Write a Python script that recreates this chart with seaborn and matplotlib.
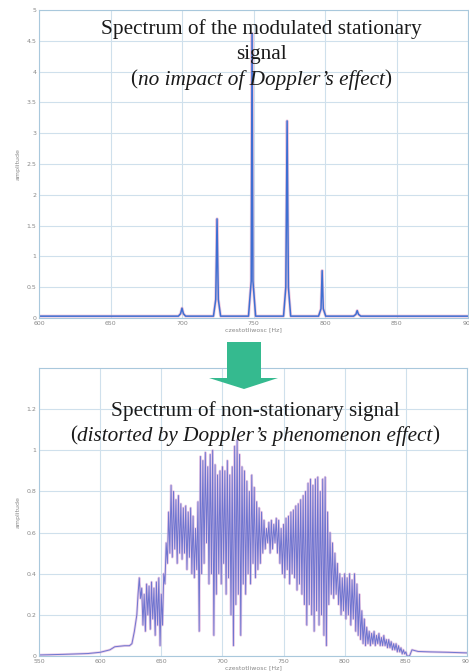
import numpy as np
import pandas as pd
import matplotlib
matplotlib.use("Agg")
import matplotlib.pyplot as plt
from matplotlib.patches import Polygon
import seaborn as sns

# ---------------- data: top panel (stationary spectrum) ----------------
top_freq = [600, 697.5, 699.0, 700.0, 701.0, 702.5,
            722.0, 723.6, 724.5, 725.4, 727.0,
            746.5, 748.4, 749.0, 749.6, 751.5,
            771.0, 772.6, 773.5, 774.4, 776.0,
            795.5, 797.2, 798.0, 798.8, 800.5,
            820.0, 821.6, 822.5, 823.4, 825.0, 900]
top_amp = [0.03, 0.03, 0.07, 0.16, 0.07, 0.03,
           0.03, 0.30, 1.61, 0.30, 0.03,
           0.03, 0.60, 4.62, 0.60, 0.03,
           0.03, 0.50, 3.20, 0.50, 0.03,
           0.03, 0.15, 0.77, 0.15, 0.03,
           0.03, 0.06, 0.12, 0.06, 0.03, 0.03]

# ---------------- data: bottom panel (non-stationary spectrum) ----------------
base_left_freq = [550, 570, 590, 600, 608, 612, 620, 624, 626, 628]
base_left_amp = [0.005, 0.008, 0.012, 0.018, 0.03, 0.045, 0.05, 0.05, 0.06, 0.12]

peak_freq = list(range(630, 851, 2))
peak_amp = [0.20, 0.38, 0.33, 0.30, 0.35, 0.34, 0.36, 0.33, 0.36, 0.38,
            0.30, 0.40, 0.55, 0.70, 0.83, 0.80, 0.76, 0.78, 0.74, 0.72,
            0.73, 0.70, 0.72, 0.68, 0.62, 0.75, 0.97, 0.95, 0.99, 0.92,
            0.98, 1.00, 0.93, 0.88, 0.90, 0.92, 0.90, 0.95, 0.88, 0.92,
            1.02, 1.05, 0.98, 0.92, 0.90, 0.85, 0.80, 0.88, 0.82, 0.75,
            0.72, 0.70, 0.66, 0.62, 0.65, 0.66, 0.64, 0.67, 0.66, 0.62,
            0.64, 0.67, 0.68, 0.70, 0.71, 0.73, 0.74, 0.76, 0.78, 0.80,
            0.84, 0.86, 0.83, 0.86, 0.87, 0.80, 0.86, 0.87, 0.70, 0.60,
            0.55, 0.50, 0.45, 0.40, 0.38, 0.40, 0.38, 0.40, 0.37, 0.40,
            0.35, 0.30, 0.22, 0.18, 0.14, 0.12, 0.11, 0.12, 0.10, 0.11,
            0.09, 0.10, 0.08, 0.08, 0.07, 0.06, 0.06, 0.05, 0.04, 0.03,
            0.02]

trough_freq = list(range(631, 852, 2))
trough_amp = [0.30, 0.28, 0.15, 0.12, 0.20, 0.13, 0.18, 0.10, 0.15, 0.05,
              0.15, 0.35, 0.45, 0.50, 0.48, 0.52, 0.45, 0.50, 0.47, 0.50,
              0.42, 0.48, 0.40, 0.38, 0.42, 0.12, 0.40, 0.45, 0.55, 0.35,
              0.40, 0.10, 0.30, 0.40, 0.35, 0.45, 0.30, 0.38, 0.20, 0.05,
              0.25, 0.30, 0.10, 0.35, 0.30, 0.40, 0.35, 0.45, 0.38, 0.42,
              0.45, 0.50, 0.52, 0.55, 0.50, 0.52, 0.55, 0.50, 0.45, 0.40,
              0.38, 0.42, 0.35, 0.40, 0.38, 0.32, 0.35, 0.30, 0.25, 0.15,
              0.25, 0.20, 0.12, 0.22, 0.15, 0.20, 0.10, 0.05, 0.25, 0.30,
              0.28, 0.30, 0.25, 0.20, 0.22, 0.18, 0.20, 0.15, 0.18, 0.12,
              0.10, 0.08, 0.06, 0.05, 0.06, 0.05, 0.06, 0.05, 0.06, 0.05,
              0.05, 0.05, 0.04, 0.04, 0.03, 0.03, 0.02, 0.02, 0.01, 0.01,
              0.00]

base_right_freq = [853, 855, 860, 870, 885, 900]
base_right_amp = [0.0, 0.03, 0.022, 0.02, 0.018, 0.015]

top_xticks = [600, 650, 700, 750, 800, 850, 900]
top_yticks = [0, 0.5, 1, 1.5, 2, 2.5, 3, 3.5, 4, 4.5, 5]
top_yticklabels = ["0", "0.5", "1", "1.5", "2", "2.5", "3", "3.5", "4", "4.5", "5"]
bot_xticks = [550, 600, 650, 700, 750, 800, 850, 900]
bot_yticks = [0, 0.2, 0.4, 0.6, 0.8, 1, 1.2]
bot_yticklabels = ["0", "0.2", "0.4", "0.6", "0.8", "1", "1.2"]

title_top = ["Spectrum of the modulated stationary", "signal"]
title_top_it = "no impact of Doppler\u2019s effect"
title_bot = "Spectrum of non-stationary signal"
title_bot_it = "distorted by Doppler\u2019s phenomenon effect"
xlabel = "czestotliwosc [Hz]"
ylabel = "amplitude"

# ---------------- build frames ----------------
df_top = pd.DataFrame({"f": top_freq, "a": top_amp})
osc = pd.DataFrame({"f": peak_freq + trough_freq, "a": peak_amp + trough_amp}).sort_values("f")
df_bot = pd.concat([pd.DataFrame({"f": base_left_freq, "a": base_left_amp}),
                    osc,
                    pd.DataFrame({"f": base_right_freq, "a": base_right_amp})],
                   ignore_index=True)

# ---------------- style ----------------
sns.set_theme(style="whitegrid")
plt.rcParams["font.family"] = ["DejaVu Sans"]

W, H = 469, 671
fig = plt.figure(figsize=(W / 100, H / 100), dpi=100)
fig.patch.set_facecolor("white")

def fx(x):
    return x / W

def fy(y):
    return 1 - y / H

ax1 = fig.add_axes([fx(39), fy(318), (468 - 39) / W, (318 - 10) / H])
ax2 = fig.add_axes([fx(39), fy(656), (467 - 39) / W, (656 - 368) / H])

grid_c = "#cfe0ec"
spine_c = "#a9c8dc"
tick_c = "#888888"

for ax in (ax1, ax2):
    ax.set_facecolor("white")
    ax.grid(True, color=grid_c, linewidth=0.8)
    for s in ax.spines.values():
        s.set_color(spine_c)
        s.set_linewidth(0.8)
    ax.tick_params(axis="both", labelsize=4.5, colors=tick_c, length=0, pad=2)

# top line: pink halo + blue line
sns.lineplot(data=df_top, x="f", y="a", ax=ax1, color="#e6a6c8", linewidth=2.2,
             alpha=0.6, estimator=None, sort=False)
sns.lineplot(data=df_top, x="f", y="a", ax=ax1, color="#3e6fd2", linewidth=1.1,
             estimator=None, sort=False)
ax1.set_xlim(600, 900)
ax1.set_ylim(0, 5)
ax1.set_xticks(top_xticks)
ax1.set_yticks(top_yticks)
ax1.set_xticklabels([str(t) for t in top_xticks])
ax1.set_yticklabels(top_yticklabels)
ax1.set_xlabel(xlabel, fontsize=4.5, color=tick_c, labelpad=1)
ax1.set_ylabel(ylabel, fontsize=4.5, color=tick_c, labelpad=4)

# bottom line
sns.lineplot(data=df_bot, x="f", y="a", ax=ax2, color="#d8a4d4", linewidth=1.8,
             alpha=0.55, estimator=None, sort=False)
sns.lineplot(data=df_bot, x="f", y="a", ax=ax2, color="#5a66cc", linewidth=0.7,
             alpha=0.85, estimator=None, sort=False)
ax2.set_xlim(550, 900)
ax2.set_ylim(0, 1.4)
ax2.set_xticks(bot_xticks)
ax2.set_yticks(bot_yticks)
ax2.set_xticklabels([str(t) for t in bot_xticks])
ax2.set_yticklabels(bot_yticklabels)
ax2.set_xlabel(xlabel, fontsize=4.5, color=tick_c, labelpad=1)
ax2.set_ylabel(ylabel, fontsize=4.5, color=tick_c, labelpad=4)

# ---------------- annotation texts ----------------
serif = ["Liberation Serif", "DejaVu Serif"]
tc = "#1a1a1a"
FS = 15.3
renderer = fig.canvas.get_renderer()

def paren_line(xc, yc, inner):
    """Upright parentheses around italic text, centred at (xc, yc) in px."""
    parts = [("(", "normal"), (inner, "italic"), (")", "normal")]
    texts = []
    for s, st in parts:
        t = fig.text(0, fy(yc), s, ha="left", va="center", fontsize=FS,
                     family=serif, color=tc, style=st)
        texts.append(t)
    widths = [t.get_window_extent(renderer).width for t in texts]
    x = xc - sum(widths) / 2
    for t, w in zip(texts, widths):
        t.set_x(fx(x))
        x += w

fig.text(fx(261), fy(29), title_top[0], ha="center", va="center",
         fontsize=FS, family=serif, color=tc)
fig.text(fx(261), fy(54), title_top[1], ha="center", va="center",
         fontsize=FS, family=serif, color=tc)
paren_line(261, 80, title_top_it)
fig.text(fx(255), fy(411), title_bot, ha="center", va="center",
         fontsize=FS, family=serif, color=tc)
paren_line(255, 436, title_bot_it)

# ---------------- green arrow ----------------
arrow_pts = [(227, 342), (261, 342), (261, 378), (278, 378), (244, 389),
             (209, 378), (227, 378)]
fig.add_artist(Polygon([(fx(x), fy(y)) for x, y in arrow_pts], closed=True,
                       transform=fig.transFigure, facecolor="#35ba8f",
                       edgecolor="none"))

fig.savefig("out.png", dpi=100, facecolor="white")
